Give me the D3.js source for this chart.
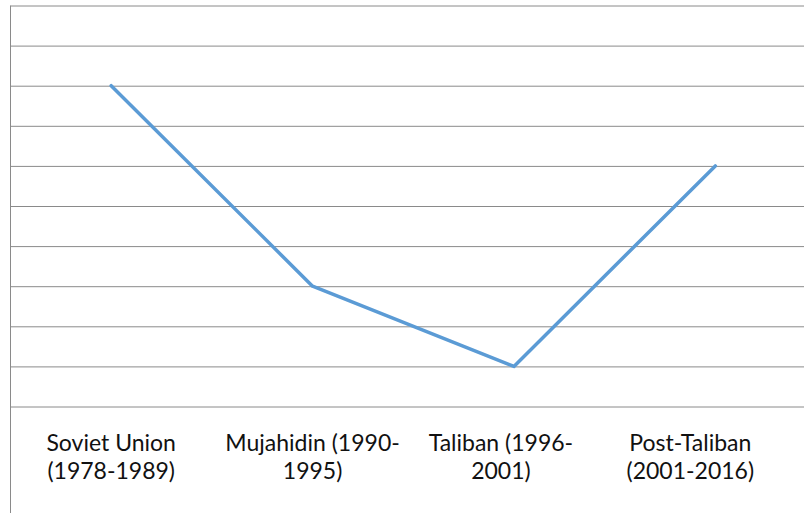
<!DOCTYPE html>
<html>
<head>
<meta charset="utf-8">
<script src="https://cdn.jsdelivr.net/npm/d3@7"></script>
<style>
  html, body { margin: 0; padding: 0; background: #fff; }
  svg { display: block; }
</style>
</head>
<body>
<svg id="chart" width="804" height="513"></svg>
<script>
// ---- data ----
const categories = ["Soviet Union (1978-1989)", "Mujahidin (1990-1995)", "Taliban (1996-2001)", "Post-Taliban (2001-2016)"];
const categoryLines = [["Soviet Union", "(1978-1989)"], ["Mujahidin (1990-", "1995)"], ["Taliban (1996-", "2001)"], ["Post-Taliban", "(2001-2016)"]];
const values = [8, 3, 1, 6];
const yTicks = [0, 1, 2, 3, 4, 5, 6, 7, 8, 9, 10];

// ---- layout ----
const W = 804, H = 513;
const plotLeft = 10.5, plotTop = 5.5, plotBottom = 406.5, plotRight = 816;
const svg = d3.select("#chart");

const x = d3.scaleBand().domain(categories).range([plotLeft, plotRight]);
const y = d3.scaleLinear().domain([0, 10]).range([plotBottom, plotTop]);

// gridlines
const yAxis = d3.axisLeft(y).tickValues(yTicks).tickSize(-(W - plotLeft)).tickFormat("");
const gy = svg.append("g").attr("transform", `translate(${plotLeft},0)`).call(yAxis);
gy.select(".domain").remove();
gy.selectAll(".tick line").attr("stroke", "#8a8a8a").attr("stroke-width", 1);

// left axis line
svg.append("line")
  .attr("x1", plotLeft).attr("x2", plotLeft)
  .attr("y1", plotTop).attr("y2", H)
  .attr("stroke", "#8a8a8a").attr("stroke-width", 1);

// category labels
const labelShift = [0, 0, -13, -25];
const lbl = svg.append("g").attr("font-family", "Lato, 'Open Sans', sans-serif")
  .attr("font-size", 23).attr("fill", "#111").attr("text-anchor", "middle");
categories.forEach((c, i) => {
  const cx = x(c) + x.bandwidth() / 2 + labelShift[i];
  categoryLines[i].forEach((line, j) => {
    lbl.append("text").attr("x", cx).attr("y", 450.5 + j * 28).text(line);
  });
});

// line series
const line = d3.line()
  .x((d, i) => x(categories[i]) + x.bandwidth() / 2)
  .y(d => y(d));
svg.append("path")
  .datum(values)
  .attr("d", line)
  .attr("fill", "none")
  .attr("stroke", "#5B9BD5")
  .attr("stroke-width", 3.5)
  .attr("stroke-linejoin", "round")
  .attr("stroke-linecap", "round");
</script>
</body>
</html>
